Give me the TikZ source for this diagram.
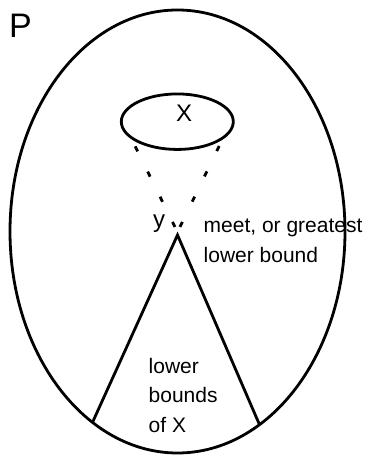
\documentclass[tikz,border=0pt]{standalone}
\usepackage{fontspec}
\setmainfont{Liberation Sans}
\usetikzlibrary{shapes.geometric}
\begin{document}
\begin{tikzpicture}[x=1pt,y=1pt,
  region/.style={ellipse, draw, line width=2.8pt, inner sep=0pt, outer sep=0pt},
  bound/.style={line width=2.8pt},
  dotline/.style={line width=2.8pt, dash pattern=on 5.6pt off 22.5pt, dash phase=22.5pt},
  lab/.style={inner sep=0pt, font=\fontsize{21}{25}\selectfont, anchor=base west},
  big/.style={inner sep=0pt, anchor=base}]
\useasboundingbox (0,0) rectangle (364,457);
\node[region, minimum width=335pt, minimum height=443pt] (P) at (177.5,225.5) {};
\node[region, minimum width=112pt, minimum height=55.5pt] (X) at (177.3,335.3) {};
\coordinate (top) at (177.5,222);
\coordinate (meet) at (177.5,225);
\draw[bound] (P.246.7) -- (top) -- (P.293.3);
\draw[dotline] (meet) -- (X.198.4);
\draw[dotline] (meet) -- (X.341.6);
\node[big, anchor=base west, font=\fontsize{34}{40}\selectfont] (Plab) at (9,419.7) {P};
\node[big, font=\fontsize{24}{28}\selectfont] (Xlab) at (184.2,335) {X};
\node[big, font=\fontsize{24}{28}\selectfont] (ylab) at (159,229.5) {y};
\node[lab] (meet1) at (203.5,224) {meet, or greatest};
\node[lab] (meet2) at (203.5,194) {lower bound};
\node[lab] (low1) at (148.5,83.5) {lower};
\node[lab] (low2) at (148.5,54) {bounds};
\node[lab] (low3) at (148.5,24.5) {of X};
\end{tikzpicture}
\end{document}
